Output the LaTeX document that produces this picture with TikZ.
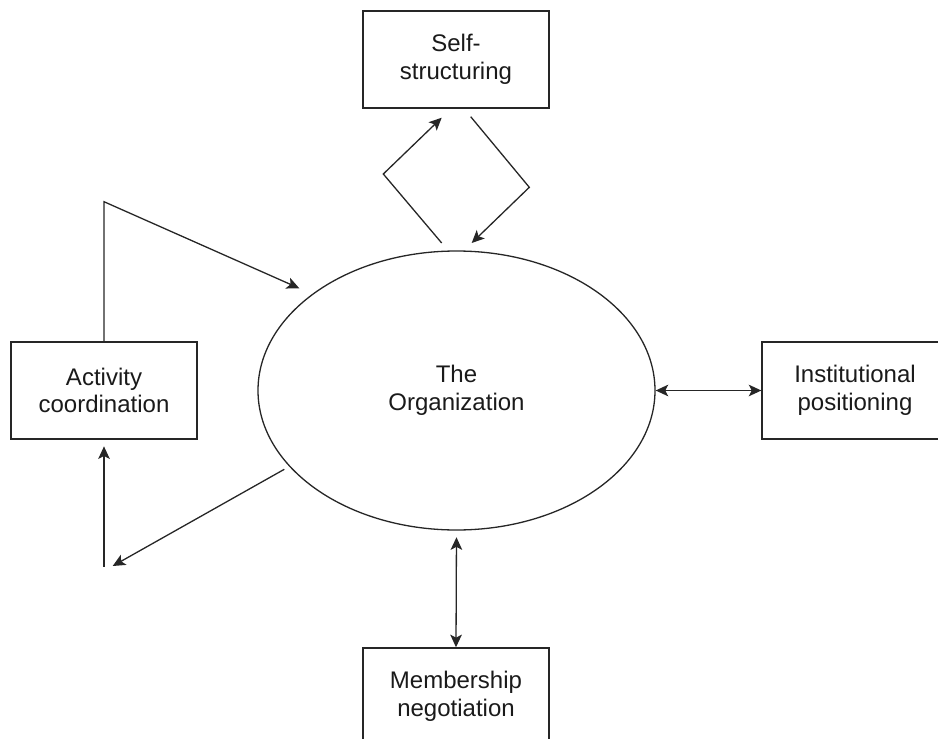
\documentclass[tikz,border=0pt]{standalone}
\usepackage{fontspec}
\setmainfont{Liberation Sans}
\usetikzlibrary{shapes.geometric,arrows.meta}
\definecolor{ink}{HTML}{262626}
\definecolor{txt}{HTML}{1A1A1A}
\begin{document}
\begin{tikzpicture}[x=0.5pt,y=-0.5pt,
  line width=0.65pt,
  box/.style={draw=ink, rectangle, minimum width=93pt, minimum height=48.6pt,
    inner sep=0pt, align=center, text=txt, font=\fontsize{12}{13.8}\selectfont},
  orgnode/.style={draw=ink, ellipse, minimum width=198.5pt, minimum height=139.5pt,
    inner sep=0pt, align=center, text=txt, font=\fontsize{12}{13.8}\selectfont},
  tipstyle/.tip={Stealth[length=6.3pt,width=5.8pt,inset=1.5pt]},
  conn/.style={draw=ink, -{tipstyle}},
  both/.style={draw=ink, {tipstyle}-{tipstyle}},
  plain/.style={draw=ink}
]
\useasboundingbox (0,0) rectangle (938,739);
\clip (0,0) rectangle (938,739);

% nodes
\node[orgnode] (org) at (456.5,390.5) {The\\Organization};
\node[box] (self) at (456,59.5) {Self-\\structuring};
\node[box] (act) at (104,390.5) {Activity\\coordination};
\node[box] (inst) at (855,390.5) {Institutional\\positioning};
\node[box] (memb) at (456,696.5) {Membership\\negotiation};

% free ends / bends
\coordinate (sL0) at (441.7,243);
\coordinate (sL1) at (383.3,174);
\coordinate (sL2) at (441.7,117.7);
\coordinate (sR0) at (470.7,116.7);
\coordinate (sR1) at (529.3,187.3);
\coordinate (sR2) at (471.7,243);
\coordinate (aTop) at (104,201.7);
\coordinate (aIn) at (299.3,288.3);
\coordinate (oOut) at (284.3,469.3);
\coordinate (aLow) at (112.7,566);
\coordinate (aBot) at (104,566.7);

% self-structuring loop
\draw[conn] (sL0) -- (sL1) -- (sL2);
\draw[conn] (sR0) -- (sR1) -- (sR2);

% activity coordination loop
\draw[conn] (act.north) -- (aTop) -- (aIn);
\draw[conn] (oOut) -- (aLow);
\draw[conn, shorten >=3.3pt] (aBot) -- (act.south);

% two-way links
\draw[both] (org.east) -- (inst.west);
\draw[both, shorten <=3.3pt] (org.south) -- (memb.north);
\end{tikzpicture}
\end{document}
